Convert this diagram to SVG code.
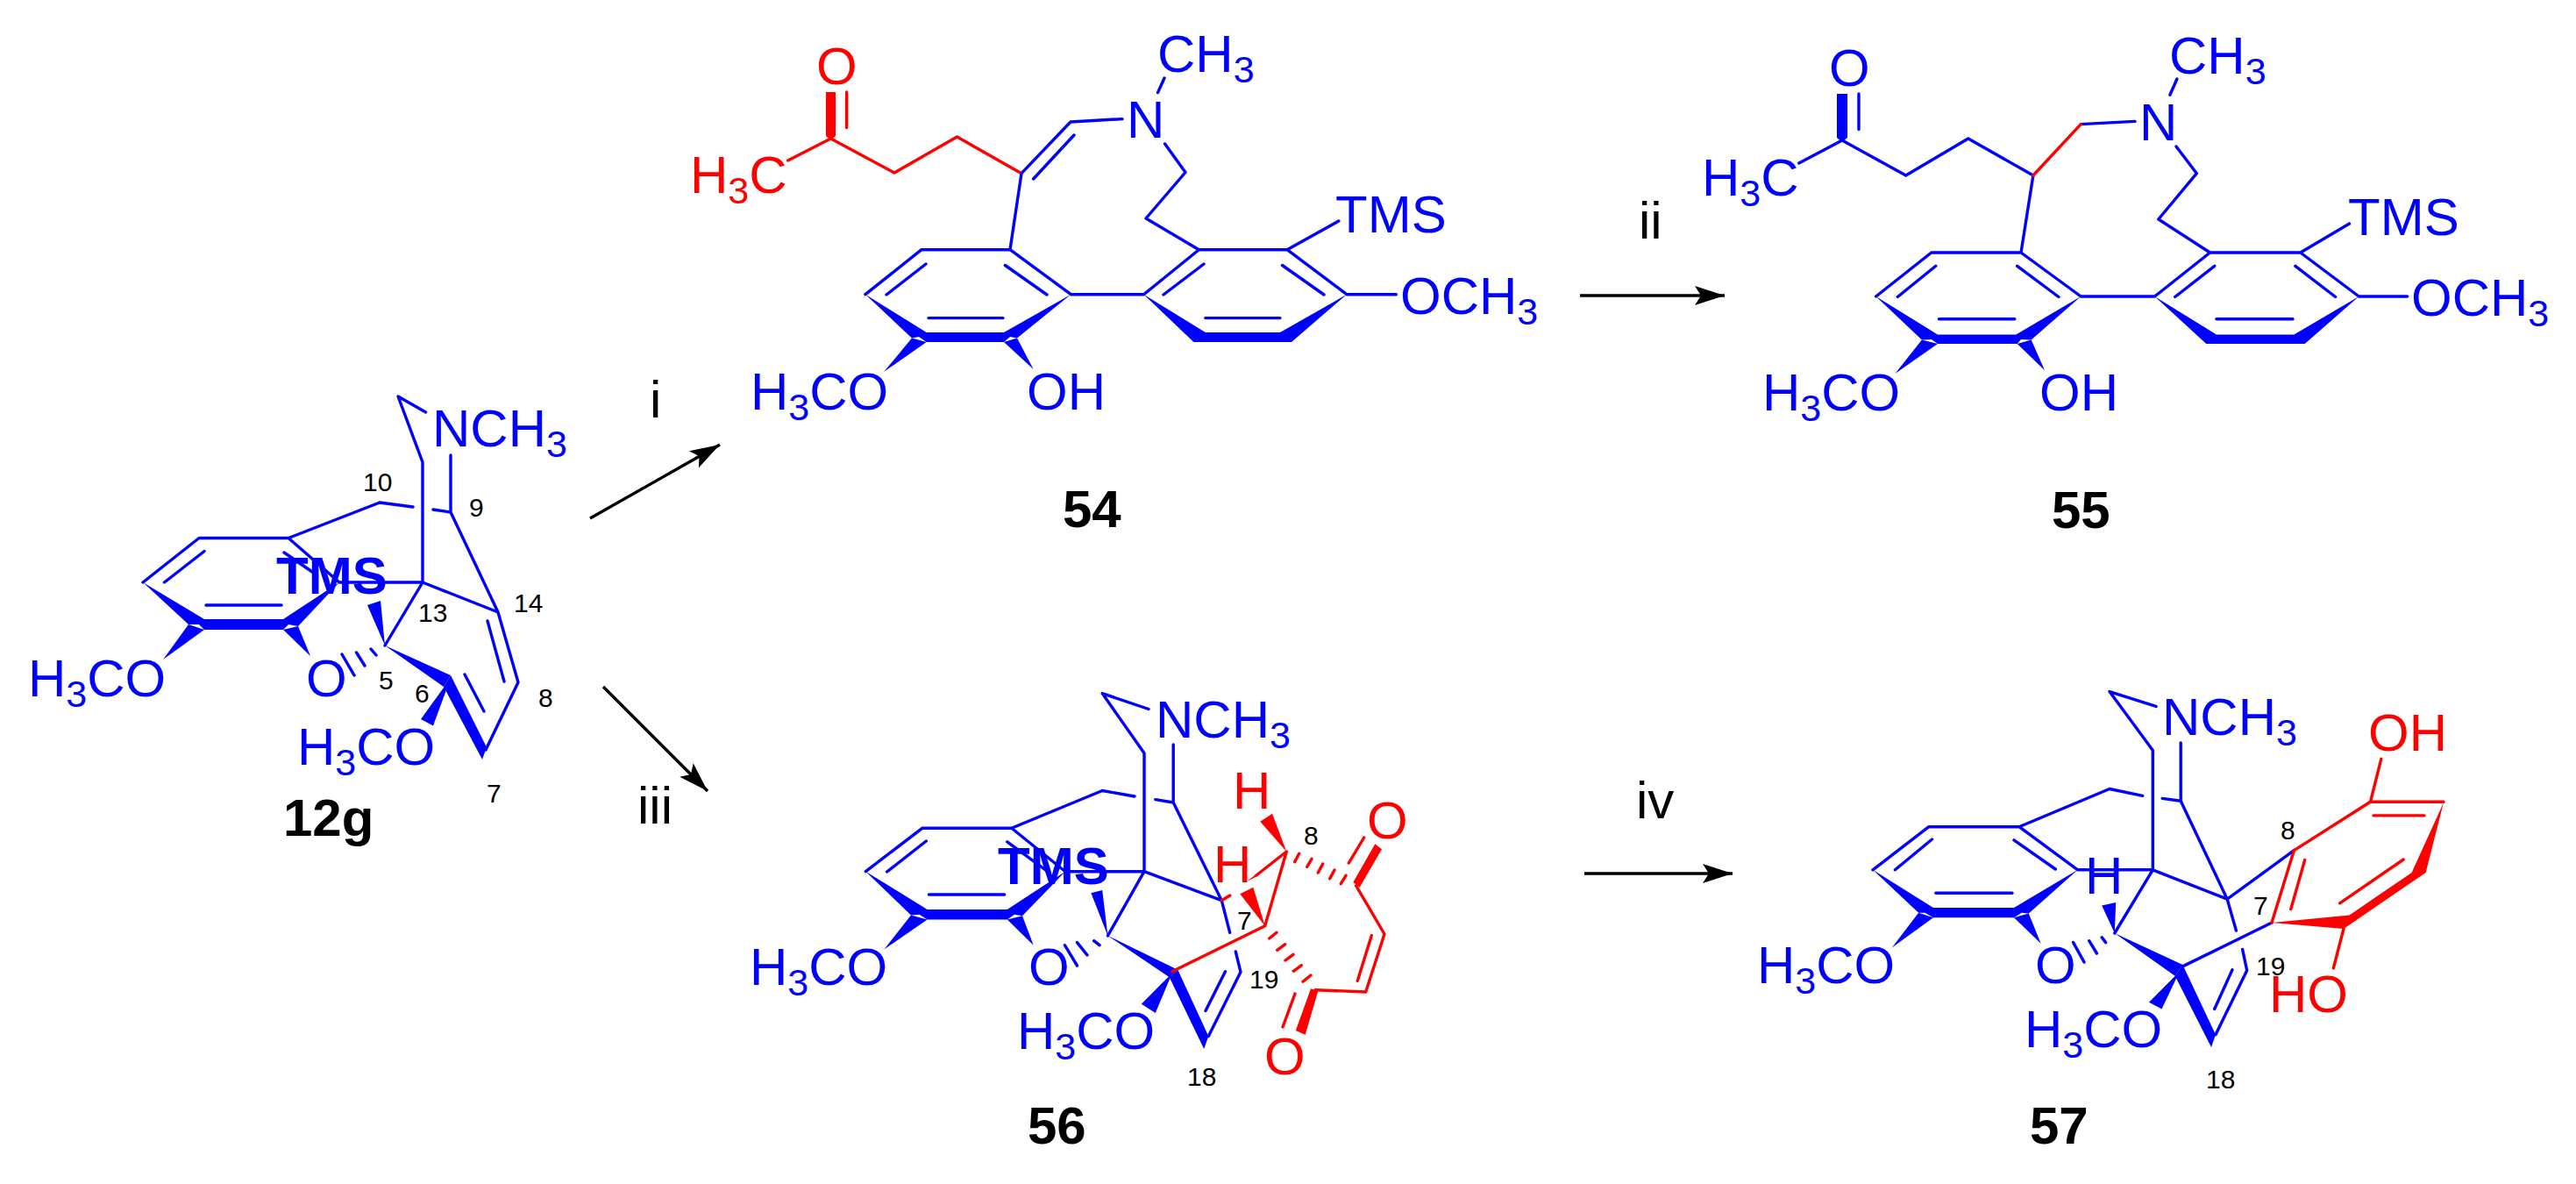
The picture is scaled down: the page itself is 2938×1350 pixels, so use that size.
<svg xmlns="http://www.w3.org/2000/svg" width="2938" height="1350" viewBox="0 0 2938 1350">
<style>
text{font-family:"Liberation Sans",Arial,sans-serif;font-size:60px;fill:#0000ff}
.r{fill:#ff0000}
.k{fill:#000}
.w{font-weight:bold}
.n{font-size:30px;fill:#000}
.s{font-size:43px}
.b{fill:none;stroke:#0000ff;stroke-width:3.4;stroke-linecap:round;stroke-linejoin:round}
.e{fill:none;stroke:#ff0000;stroke-width:3.4;stroke-linecap:round;stroke-linejoin:round}
.f{fill:#0000ff}
.g{fill:#ff0000}
.a{fill:none;stroke:#000;stroke-width:3.4}
</style>
<defs>
<marker id="ah" markerUnits="userSpaceOnUse" markerWidth="36" markerHeight="22" refX="34" refY="11" orient="auto"><path d="M34 11L0 0L7 11L0 22Z" fill="#000"/></marker>
</defs>
<rect width="2938" height="1350" fill="#fff"/>

<g id="connectors">
<path class="a" marker-end="url(#ah)" d="M673 591L821 507"/>
<path class="a" marker-end="url(#ah)" d="M688 783L807 902"/>
<path class="a" marker-end="url(#ah)" d="M1802 337H1967"/>
<path class="a" marker-end="url(#ah)" d="M1807 996H1976"/>
<text class="k" x="741" y="476">i</text>
<text class="k" x="727" y="939">iii</text>
<text class="k" x="1869" y="272">ii</text>
<text class="k" x="1866" y="933">iv</text>
</g>

<g id="compound-12g">
<path class="b" d="M485.500 470L454 452L482 527V664M514 519V584M433 573L471 578M494 581L514 584L568 698L591 778L554 855M433 573L329 613.500H227L163 664M329 613.500L387 664H482L439 736M482 664L568 698M187.500 664L233 628.500M324 630L359 654M235 690H321M556 708L575 777M530 769L552 811M390 746L404 770M406.500 744L416 759M423 740L429 747"/>
<polygon class="f" points="163,664 233,706 323,706 387,664 340,714 329,712 323,718 233,718 227,712 215,712"/>
<polygon class="f" points="186,752 215,712 233,718"/>
<polygon class="f" points="354,748 323,718 340,714"/>
<polygon class="f" points="439,736 419,690 434,685"/>
<polygon class="f" points="439,736 514,770 506,783"/>
<polygon class="f" points="514,770 506,783 550,866 555,852"/>
<polygon class="f" points="514,773 480,820 494,827.500"/>
<text class="w" x="315" y="677">TMS</text>
<text x="493" y="509">NCH<tspan class="s" dy="12">3</tspan></text>
<text x="32" y="794">H<tspan class="s" dy="12">3</tspan><tspan dy="-12">CO</tspan></text>
<text x="349" y="794">O</text>
<text x="339" y="872">H<tspan class="s" dy="12">3</tspan><tspan dy="-12">CO</tspan></text>
<text class="n" x="414" y="560">10</text>
<text class="n" x="535" y="589">9</text>
<text class="n" x="477" y="709">13</text>
<text class="n" x="586" y="698">14</text>
<text class="n" x="432" y="786">5</text>
<text class="n" x="473" y="801">6</text>
<text class="n" x="614" y="806">8</text>
<text class="n" x="555" y="915">7</text>
<text class="k w" x="323" y="953">12g</text>
</g>

<g id="compound-54">
<path class="e" d="M898.700 183L947.500 158L1020 197L1091.500 156L1165 197.700M965.600 105V145.500"/>
<path class="b" d="M1165 197.700L1221 139L1280 135.600M1178.600 204L1225 154M1165 197.700L1152 284.700H1051L987 335.700M1152 284.700L1221.400 335.700H1304.500L1367.400 284.700H1468L1536 335.700H1592.400M1320.500 105.600L1328 89M1328.600 164L1352 196.500L1307 249L1367.400 284.700M1011 336L1056 301M1146.400 302.500L1194 336M1059 362.600H1144M1327 336L1373 301M1462.500 302.500L1510 336M1374.800 362.600H1460M1468 284.700L1526.800 252"/>
<polygon class="g" points="942,105 953,105 953,155 947.500,160 942,155"/>
<polygon class="f" points="987,335.700 1056.700,379 1145,379 1221.400,335.700 1160,385.500 1152,384 1145,390 1056.700,390 1048,384 1040,385.500"/>
<polygon class="f" points="1008,424 1040,385.500 1056.700,390"/>
<polygon class="f" points="1178.600,421 1145,390 1160,385.500"/>
<polygon class="f" points="1304.500,335.700 1374.800,379 1460,379 1536,335.700 1473,390 1361.400,390"/>
<text class="r" x="931" y="96">O</text>
<text class="r" x="787" y="220">H<tspan class="s" dy="12">3</tspan><tspan dy="-12">C</tspan></text>
<text x="1285" y="157">N</text>
<text x="1320" y="82">CH<tspan class="s" dy="12">3</tspan></text>
<text x="1523" y="265">TMS</text>
<text x="1597" y="358">OCH<tspan class="s" dy="12">3</tspan></text>
<text x="856" y="467">H<tspan class="s" dy="12">3</tspan><tspan dy="-12">CO</tspan></text>
<text x="1171" y="467">OH</text>
<text class="k w" x="1212" y="601">54</text>
</g>

<g id="compound-55">
<path class="b" d="M2051.800 186L2101 160L2173.700 200L2244.800 158L2318.900 200L2305 288H2202.800L2139.600 338M2373.300 141.600L2435 138.400M2120 107V147.500M2474.900 108.300L2482.900 90M2482 167L2505.400 197.700L2461.800 250L2520.600 288H2623.700L2690.400 338H2745.600M2305 288L2373.300 338H2457.500L2520.600 288M2164.300 338.500L2207.800 303.300M2300.700 303.300L2347.900 338.500M2211.500 363.800H2297.800M2480.700 338.500L2525.700 303.300M2617.900 303.300L2663.600 338.500M2527.900 363.800H2615M2623.700 288L2679.500 255"/>
<path class="e" d="M2318.900 200L2373.300 141.600"/>
<polygon class="f" points="2095,107 2107,107 2107,157 2101,162 2095,157"/>
<polygon class="f" points="2139.600,338 2210,381.600 2299.300,381.600 2373.300,338 2316.700,387.500 2305,387 2300.700,392 2210,392 2203,387 2191.900,387.500"/>
<polygon class="f" points="2161.400,426 2191.900,387.500 2210,392"/>
<polygon class="f" points="2332,422.300 2300.700,392 2316.700,387.500"/>
<polygon class="f" points="2457.500,338 2527.900,381.600 2616.400,381.600 2690.400,338 2628.700,392 2516.300,392"/>
<text x="2086" y="98">O</text>
<text x="1941" y="223">H<tspan class="s" dy="12">3</tspan><tspan dy="-12">C</tspan></text>
<text x="2440" y="160">N</text>
<text x="2474" y="84">CH<tspan class="s" dy="12">3</tspan></text>
<text x="2678" y="268">TMS</text>
<text x="2750" y="360">OCH<tspan class="s" dy="12">3</tspan></text>
<text x="2010" y="468">H<tspan class="s" dy="12">3</tspan><tspan dy="-12">CO</tspan></text>
<text x="2326" y="468">OH</text>
<text class="k w" x="2340" y="602">55</text>
</g>

<g id="compound-56">
<path class="b" d="M1310 808.500L1257.200 790.600L1305 858.700V993.700L1263.500 1066.900M1338.200 849V915L1393.300 1026.700M1257.200 901.500L1294 908M1317.800 911.600L1338.200 915M1257.200 901.500L1153.800 944.300H1051.800L987.400 993.700M1153.800 944.300L1215 993.700H1305L1393.300 1026.700L1402.700 1063.300M1409.300 1085L1415 1108.300L1378.300 1181.600M1397.500 1107.700L1375 1152.500M1011.600 994L1056.300 959M1148.800 959.800L1196.600 994.900M1059.500 1020H1145.600M1214.400 1077.700L1228.500 1101M1228.500 1074.600L1240 1089M1247.600 1072.700L1254 1077.700"/>
<polygon class="f" points="987.400,993.700 1057.600,1036.900 1148.800,1036.900 1215,993.700 1166,1044.300 1157,1042.700 1148.800,1048.600 1057.600,1048.600 1048.600,1042.700 1039,1043.500"/>
<polygon class="f" points="1008.400,1082.400 1039,1043.500 1057.600,1048.600"/>
<polygon class="f" points="1178.700,1077.700 1148.800,1048.600 1166,1044.300"/>
<polygon class="f" points="1263.500,1066.900 1244.400,1018.200 1257.200,1015"/>
<polygon class="f" points="1263.500,1066.900 1343.300,1105.800 1333.700,1114.300"/>
<polygon class="f" points="1343.300,1105.800 1333.700,1114.300 1373.200,1196 1378.300,1181.600"/>
<polygon class="f" points="1336.900,1109.600 1301.800,1144.700 1317.800,1155"/>
<path class="e" d="M1433 998L1467.300 971L1442.700 1055.700L1336.900 1107.700M1393.300 1026.700L1402.700 1021M1538.300 984L1555.700 955M1546.700 1010L1579 1065L1557.700 1131L1500 1128.700M1564.300 1066.700L1548.300 1118.300M1477 1133L1463 1171"/>
<polygon class="g" points="1433,996.500 1434,999 1422,1005"/>
<path class="e" d="M1476.700 982.700L1481.700 973.300M1490.700 988.300L1496 979.300M1503.300 995L1508.700 985M1516.700 1001.700L1522 992M1529.300 1007.700L1535 998.300M1447.700 1070L1456 1063.300M1456.700 1083.300L1465.700 1076.700M1466 1095L1475 1088.300M1475.300 1107.300L1484.300 1100.700M1486 1119.300L1495 1112"/>
<polygon class="g" points="1467.300,971 1437.300,936.700 1451,927.700"/>
<polygon class="g" points="1442.700,1055.700 1414.300,1019.300 1429.300,1011.700"/>
<polygon class="g" points="1543.300,1006 1550.700,1011.700 1576,968.300 1568.300,962.300"/>
<polygon class="g" points="1495,1127.300 1503.300,1130 1488.700,1179.700 1477.800,1175"/>
<text class="w" x="1138" y="1008">TMS</text>
<text x="1318" y="841">NCH<tspan class="s" dy="12">3</tspan></text>
<text x="855" y="1123">H<tspan class="s" dy="12">3</tspan><tspan dy="-12">CO</tspan></text>
<text x="1173" y="1123">O</text>
<text x="1160" y="1196">H<tspan class="s" dy="12">3</tspan><tspan dy="-12">CO</tspan></text>
<text class="r" x="1406" y="922">H</text>
<text class="r" x="1384" y="1006">H</text>
<text class="r" x="1559" y="956">O</text>
<text class="r" x="1442" y="1225">O</text>
<text class="n" x="1487" y="963">8</text>
<text class="n" x="1411" y="1060">7</text>
<text class="n" x="1425" y="1127">19</text>
<text class="n" x="1354" y="1238">18</text>
<text class="k w" x="1172" y="1304">56</text>
</g>

<g id="compound-57">
<path class="b" d="M2459 805.400L2406 788.600L2455.300 855.600V991.800L2411.800 1064M2487.200 847V913.200L2540.200 1025.200L2550.400 1061M2557.600 1082.400L2562.700 1106.500L2527 1179.700M2546 1105.800L2525.700 1150.500M2406 899.500L2443.700 907.300M2466.200 910.400L2487.200 913.200M2406 899.500L2302.900 942.700H2199.900L2136 991.800M2302.900 942.700L2369.700 991.800H2455.300L2540.200 1025.200L2616.400 969.600M2591 1052L2489.400 1101.900M2161.400 991.800L2203.500 957M2297 957.900L2344.300 991M2207.800 1018.200H2295M2364.600 1074.600L2377 1097M2382.700 1072.700L2391.400 1087M2397.200 1068.800L2401.600 1074.600"/>
<polygon class="f" points="2136,991.800 2205,1035 2297,1035 2369.700,991.800 2313.800,1041.600 2305.800,1040.800 2297,1046.200 2205,1046.200 2195.500,1040.800 2188.200,1040.800"/>
<polygon class="f" points="2157.800,1080.500 2188.200,1040.800 2205,1046.200"/>
<polygon class="f" points="2327.600,1075.800 2297,1046.200 2313.800,1041.600"/>
<polygon class="f" points="2411.800,1064 2397.200,1032.600 2413.200,1029"/>
<polygon class="f" points="2411.800,1064 2489.400,1100 2480.700,1112.800"/>
<polygon class="f" points="2489.400,1100 2480.700,1112.800 2522,1194 2527,1179.700"/>
<polygon class="f" points="2485.800,1107.700 2451,1142.700 2465.500,1150.500"/>
<path class="e" d="M2616.400 969.600L2591 1052M2628.700 980.500L2612.800 1036.500M2616.400 969.600L2703.500 914.300H2787M2707 929.900H2765M2703.500 914.300L2715.800 865.300M2668.600 1029.900L2741.200 980M2673 1059L2661.400 1103.800"/>
<polygon class="g" points="2591,1052 2679.500,1043.500 2750.600,994.900 2787,915 2766.600,994.900 2673,1059"/>
<text x="2466" y="838">NCH<tspan class="s" dy="12">3</tspan></text>
<text x="2004" y="1121">H<tspan class="s" dy="12">3</tspan><tspan dy="-12">CO</tspan></text>
<text x="2321" y="1121">O</text>
<text x="2309" y="1194">H<tspan class="s" dy="12">3</tspan><tspan dy="-12">CO</tspan></text>
<text x="2378" y="1019">H</text>
<text class="r" x="2701" y="856">OH</text>
<text class="r" x="2588" y="1154">HO</text>
<text class="n" x="2601" y="957">8</text>
<text class="n" x="2570" y="1043">7</text>
<text class="n" x="2573" y="1112">19</text>
<text class="n" x="2516" y="1241">18</text>
<text class="k w" x="2315" y="1304">57</text>
</g>
</svg>
